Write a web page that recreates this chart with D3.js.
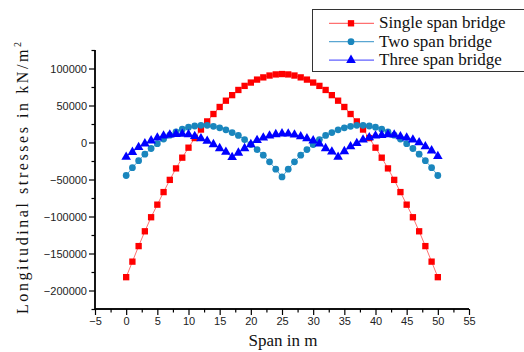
<!DOCTYPE html>
<html><head><meta charset="utf-8">
<script src="https://cdn.jsdelivr.net/npm/d3@7"></script>
<style>body{margin:0;background:#fff;} svg{display:block;}</style>
</head><body>
<svg id="c" width="524" height="352"></svg>
<script>
const span = d3.range(0, 51);
const singleSpan = [-182000,-161000,-140000,-120000,-101000,-84000,-67000,-50500,-35000,-20500,-7000,
  6000,17500,28500,38500,48000,56500,64000,71000,76500,81000,85000,88000,90500,92000,92500,
  92000,90500,88000,85000,81000,76500,71000,64000,56500,48000,38500,28500,17500,6000,-7000,
  -20500,-35000,-50500,-67000,-84000,-101000,-120000,-140000,-161000,-182000];
const twoSpan = [-44600,-34000,-24500,-15800,-8100,-1600,4700,9900,14400,18000,20700,22300,23200,23200,
  21800,19800,17100,13500,9500,4000,-2700,-9500,-17100,-26100,-36000,-46500,
  -36000,-26100,-17100,-9500,-2700,4000,9500,13500,17100,19800,21800,23200,23200,22300,20700,
  18000,14400,9900,4700,-1600,-8100,-15800,-24500,-34000,-44600];
const threeSpan = [-19500,-13000,-6500,-1500,2500,6300,9000,10500,11300,11500,10800,8500,5500,2000,
  -2500,-8000,-12800,-20000,-14000,-8000,-2500,3000,6500,9000,11000,12000,11800,10500,8100,5400,
  2500,-1800,-8000,-12600,-19500,-12000,-5500,-1000,3600,6800,9000,10000,10800,10400,8100,6300,
  3600,0,-5400,-11000,-18500];
const seriesNames = ["Single span bridge","Two span bridge","Three span bridge"];
const xTicks = d3.range(-5, 56, 5);
const yTicks = [-200000,-150000,-100000,-50000,0,50000,100000];

const SERIF = "'Liberation Serif','Times New Roman',serif";
const SANS = "'Liberation Sans',Arial,sans-serif";

const series = [
  {name: seriesNames[0], values: singleSpan, color: "#ff0000", line: "#ff7070", shape: d3.symbolSquare, size: 40},
  {name: seriesNames[1], values: twoSpan, color: "#1a86bd", line: "#5aa6d2", shape: d3.symbolCircle, size: 36},
  {name: seriesNames[2], values: threeSpan, color: "#0000ff", line: "#6060ff", shape: d3.symbolTriangle, size: 40}
];

const svg = d3.select("#c");
const x = d3.scaleLinear().domain([-5, 55]).range([95, 469]);
const y = d3.scaleLinear().domain([-225000, 125000]).range([309, 50]);

const xAxis = svg.append("g").attr("transform", "translate(0,309)")
  .call(d3.axisBottom(x).tickValues(xTicks).tickSize(6).tickPadding(2).tickFormat(d3.format("d")));
const xMinor = svg.append("g").attr("transform", "translate(0,309)")
  .call(d3.axisBottom(x).tickValues(d3.range(-2.5, 55, 5)).tickSize(3.5).tickFormat(""));
const yAxis = svg.append("g").attr("transform", "translate(95,0)")
  .call(d3.axisLeft(y).tickValues(yTicks).tickSize(6).tickPadding(2).tickFormat(d3.format("d")));
const yMinor = svg.append("g").attr("transform", "translate(95,0)")
  .call(d3.axisLeft(y).tickValues(d3.range(-225000, 125001, 50000)).tickSize(3.5).tickFormat(""));
[xAxis, xMinor, yAxis, yMinor].forEach(g => {
  g.select(".domain").attr("stroke", "#000").attr("stroke-width", 1.4);
  g.selectAll(".tick line").attr("stroke", "#000").attr("stroke-width", 1.2);
  g.selectAll("text").style("font-family", SANS).style("font-size", "11px").attr("fill", "#222");
});
[xAxis, xMinor].forEach(g => g.select(".domain").attr("d", `M${x(-5)},0H${x(55)}`));
[yAxis, yMinor].forEach(g => g.select(".domain").attr("d", `M0,${y(125000)}V${y(-225000)}`));

const line = d3.line().x((d, i) => x(span[i])).y(d => y(d));
series.forEach(s => {
  svg.append("path").datum(s.values).attr("d", line)
    .attr("fill", "none").attr("stroke", s.line).attr("stroke-width", 1);
  svg.append("g").selectAll("path").data(s.values).join("path")
    .attr("transform", (d, i) => `translate(${x(span[i])},${y(d)})`)
    .attr("d", d3.symbol().type(s.shape).size(s.size))
    .attr("fill", s.color);
});

const lg = svg.append("g");
lg.append("rect").attr("x", 312.5).attr("y", 9.5).attr("width", 220).attr("height", 62)
  .attr("fill", "#fff").attr("stroke", "#333").attr("stroke-width", 1);
series.forEach((s, i) => {
  const yy = 23.3 + i * 18.4;
  lg.append("line").attr("x1", 329).attr("x2", 374).attr("y1", yy).attr("y2", yy)
    .attr("stroke", s.line).attr("stroke-width", 1.2);
  lg.append("path").attr("transform", `translate(351,${yy})`)
    .attr("d", d3.symbol().type(s.shape).size(s.size)).attr("fill", s.color);
  lg.append("text").attr("x", 379).attr("y", yy + 5).text(s.name)
    .style("font-family", SERIF).style("font-size", "17px").attr("fill", "#111");
});

svg.append("text").attr("x", 283).attr("y", 346).attr("text-anchor", "middle")
  .style("font-family", SERIF).style("font-size", "17px").attr("fill", "#111")
  .text("Span in m");
const yl = svg.append("text").attr("transform", "translate(28,178) rotate(-90)").attr("text-anchor", "middle")
  .style("font-family", SERIF).style("font-size", "16px").attr("fill", "#111")
  .attr("textLength", 272).attr("lengthAdjust", "spacing");
yl.append("tspan").text("Longitudinal stresses in kN/m");
yl.append("tspan").attr("dy", -7).style("font-size", "10px").text("2");
</script>
</body></html>
